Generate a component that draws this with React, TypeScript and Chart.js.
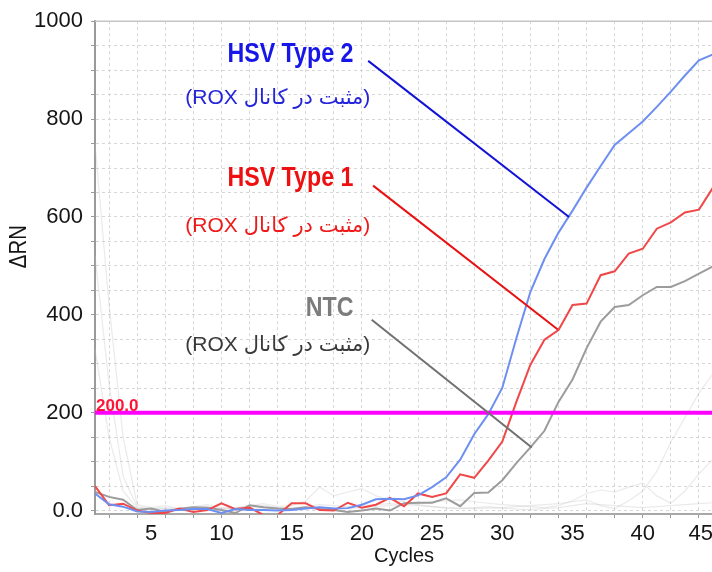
import React, { useEffect, useRef } from 'react';
import { Chart, registerables } from 'chart.js';

Chart.register(...registerables);

const FONT = '"Liberation Sans", Arial, "DejaVu Sans", sans-serif';

// ---- data ----
const cycles = Array.from({ length: 45 }, (_, i) => i + 1);

const hsvType2 = [35, 13, 8, -2, -3, 0, 1, 3, 3, -5, 3, 1, 1, 0, 1, 4, 7, 4, 5, 12, 23, 24, 23, 31, 48, 68, 104, 156, 197, 251, 352, 447, 514, 568, 613, 660, 704, 747, 771, 795, 825, 856, 889, 920, 932];
const hsvType1 = [50, 11, 14, 0, -5, -5, 4, -3, 1, 15, 3, 6, -9, -9, 15, 15, 1, 0, 16, 6, 12, 26, 9, 35, 28, 35, 74, 67, 102, 141, 222, 298, 349, 369, 420, 423, 481, 489, 525, 535, 576, 589, 609, 615, 660];
const ntc = [38, 28, 22, 1, 4, -3, 4, 7, 6, 1, -5, 11, 7, 4, 3, 7, 3, 1, -3, 0, 4, 0, 15, 16, 16, 25, 9, 36, 37, 62, 97, 129, 163, 222, 268, 332, 386, 416, 420, 440, 457, 457, 469, 484, 499];

// faint background traces (other wells / channels)
const faintA = [750, 420, 150, 12, 6, 10, 4, 8, 12, 6, 5, 10, 14, 8, 10, 20, 48, 30, 38, 45, 30, 22, 18, 12, 8, 5, 4, 6, 8, 5, 3, 2, 4, 6, 10, 14, 12, 10, 8, 6, 8, 10, 12, 14, 16];
const faintB = [520, 260, 70, 8, 4, 6, 3, 5, 8, 4, 6, 8, 10, 6, 5, 8, 12, 10, 8, 10, 12, 14, 12, 10, 8, 6, 5, 4, 5, 6, 8, 10, 12, 14, 18, 22, 10, 4, 20, 40, 80, 140, 190, 240, 280];
const faintC = [330, 150, 40, 5, 3, 4, 2, 3, 5, 3, 4, 5, 6, 4, 3, 5, 6, 5, 4, 6, 8, 10, 12, 14, 18, 20, 22, 18, 15, 12, 10, 8, 6, 10, 20, 35, 42, 38, 48, 56, 30, 15, 40, 75, 105];

const threshold = 200;
const thresholdLabel = '200.0';

// axis ticks
const xGridCycles = [2, 4, 6, 8, 10, 12, 14, 16, 18, 20, 22, 24, 26, 28, 30, 32, 34, 36, 38, 40, 42, 44];
const xLabelCycles = [5, 10, 15, 20, 25, 30, 35, 40, 45];
const yGridValues = Array.from({ length: 21 }, (_, i) => i * 50);
const yLabelValues = [0, 200, 400, 600, 800, 1000];
const yTitle = 'ΔRN';

// annotations (data coordinates: cycle, ΔRN)
const titles = ['HSV Type 2', 'HSV Type 1', 'NTC'];
const titleColors = ['#1616e8', '#ee1010', '#7c7c7c'];
const noteColors = ['#2424d8', '#ee1a1a', '#3a3a3a'];
const noteText = '(مثبت در کانال ROX)';
const titleCycle = 19.4;
const titleValues = [931, 678, 412];
const noteCycle = 20.6;
const noteValues = [843, 582, 338];
const pointerFrom = [{ x: 20.45, y: 919 }, { x: 20.8, y: 664 }, { x: 20.7, y: 390 }];
const pointerTo = [{ x: 34.75, y: 600 }, { x: 33.95, y: 370 }, { x: 32.1, y: 129 }];
const pointerColors = ['#1212d6', '#e81010', '#707070'];

const toPoints = (arr: number[]) => cycles.map((c, i) => ({ x: c, y: arr[i] }));

const annotationPlugin = {
  id: 'pcrAnnotations',
  afterDatasetsDraw(chart: any) {
    const { ctx, chartArea, scales } = chart;
    const x = scales.x;
    const y = scales.y;
    ctx.save();
    // top frame line
    ctx.strokeStyle = '#c4c4c4';
    ctx.lineWidth = 1.5;
    ctx.beginPath();
    ctx.moveTo(chartArea.left, chartArea.top);
    ctx.lineTo(chartArea.right, chartArea.top);
    ctx.stroke();

    // threshold label
    ctx.fillStyle = '#ff1438';
    ctx.font = `bold 17px ${FONT}`;
    ctx.textAlign = 'left';
    ctx.textBaseline = 'alphabetic';
    ctx.fillText(thresholdLabel, chartArea.left + 1, y.getPixelForValue(threshold) - 2);

    titles.forEach((t, i) => {
      ctx.save();
      ctx.translate(x.getPixelForValue(titleCycle), y.getPixelForValue(titleValues[i]));
      ctx.scale(0.86, 1);
      ctx.font = `bold 27px ${FONT}`;
      ctx.fillStyle = titleColors[i];
      ctx.textAlign = 'right';
      ctx.textBaseline = 'middle';
      ctx.fillText(t, 0, 0);
      ctx.restore();

      ctx.save();
      ctx.direction = 'rtl';
      ctx.font = `21px ${FONT}`;
      ctx.fillStyle = noteColors[i];
      ctx.textAlign = 'right';
      ctx.textBaseline = 'middle';
      ctx.fillText(noteText, x.getPixelForValue(noteCycle), y.getPixelForValue(noteValues[i]));
      ctx.restore();
    });
    ctx.restore();
  },
  afterDraw(chart: any) {
    const { ctx, chartArea } = chart;
    // y axis title, condensed like the original
    ctx.save();
    ctx.translate(19, (chartArea.top + chartArea.bottom) / 2 - 21);
    ctx.rotate(-Math.PI / 2);
    ctx.scale(0.85, 1);
    ctx.font = `24px ${FONT}`;
    ctx.fillStyle = '#151515';
    ctx.textAlign = 'center';
    ctx.textBaseline = 'middle';
    ctx.fillText(yTitle, 0, 0);
    ctx.restore();
  },
};

export default function App() {
  const canvasRef = useRef<HTMLCanvasElement | null>(null);

  useEffect(() => {
    document.body.style.margin = '0';
    document.body.style.overflow = 'hidden';
    const canvas = canvasRef.current;
    if (!canvas) return;

    const faintStyle = {
      borderColor: 'rgba(190,190,190,0.33)',
      borderWidth: 1.2,
      pointRadius: 0,
      order: 20,
    };

    const chart = new Chart(canvas, {
      type: 'line',
      data: {
        datasets: [
          ...pointerFrom.map((p, i) => ({
            data: [p, pointerTo[i]],
            borderColor: pointerColors[i],
            borderWidth: 2,
            pointRadius: 0,
            order: 0,
          })),
          {
            data: [{ x: 1, y: threshold }, { x: 45, y: threshold }],
            borderColor: '#ff00ff',
            borderWidth: 4,
            pointRadius: 0,
            order: 1,
          },
          { data: toPoints(hsvType2), borderColor: '#6d8ff2', borderWidth: 2, pointRadius: 0, order: 3 },
          { data: toPoints(hsvType1), borderColor: '#f04848', borderWidth: 2, pointRadius: 0, order: 4 },
          { data: toPoints(ntc), borderColor: '#9c9c9c', borderWidth: 2, pointRadius: 0, order: 5 },
          { data: toPoints(faintA), ...faintStyle },
          { data: toPoints(faintB), ...faintStyle },
          { data: toPoints(faintC), ...faintStyle },
        ] as any,
      },
      options: {
        animation: false,
        responsive: false,
        devicePixelRatio: 1,
        layout: { padding: { top: 16, right: 17, left: 0, bottom: 0 } },
        elements: { line: { tension: 0 }, point: { radius: 0 } },
        plugins: { legend: { display: false }, tooltip: { enabled: false } },
        scales: {
          x: {
            type: 'linear',
            min: 1,
            max: 45,
            afterBuildTicks: (scale: any) => {
              const vals = Array.from(new Set([...xGridCycles, ...xLabelCycles])).sort((a, b) => a - b);
              scale.ticks = vals.map((v) => ({ value: v }));
            },
            afterFit: (scale: any) => {
              scale.height = 58;
            },
            ticks: {
              autoSkip: false,
              maxRotation: 0,
              align: 'inner',
              padding: 3,
              color: '#151515',
              font: { family: FONT, size: 22 },
              callback: (v: any) => (xLabelCycles.includes(Number(v)) ? String(v) : ''),
            },
            grid: {
              color: (c: any) => (c.tick && xGridCycles.includes(c.tick.value) ? '#d6d6d6' : 'rgba(0,0,0,0)'),
              lineWidth: 1,
              tickLength: 4,
              tickColor: (c: any) => (c.tick && xGridCycles.includes(c.tick.value) ? '#9a9a9a' : 'rgba(0,0,0,0)'),
            },
            border: { display: true, color: '#a8a8a8', width: 2, dash: [3, 3] },
            title: {
              display: true,
              text: 'Cycles',
              color: '#151515',
              font: { family: FONT, size: 20 },
              padding: { top: 0, bottom: 4 },
            },
          },
          y: {
            type: 'linear',
            min: -7,
            max: 1000,
            afterBuildTicks: (scale: any) => {
              scale.ticks = yGridValues.map((v) => ({ value: v }));
            },
            afterFit: (scale: any) => {
              scale.width = 95;
            },
            ticks: {
              autoSkip: false,
              padding: 8,
              color: '#151515',
              font: { family: FONT, size: 22 },
              callback: (v: any) => {
                const n = Number(v);
                if (!yLabelValues.includes(n)) return '';
                return n === 0 ? '0.0' : String(n);
              },
            },
            grid: {
              color: (c: any) => (c.tick && c.tick.value === 1000 ? 'rgba(0,0,0,0)' : '#d6d6d6'),
              lineWidth: 1,
              tickLength: 4,
              tickColor: '#9a9a9a',
            },
            border: { display: true, color: '#9a9a9a', width: 2, dash: [3, 3] },
            title: { display: false },
          },
        },
      } as any,
      plugins: [annotationPlugin],
    });

    return () => chart.destroy();
  }, []);

  return (
    <div style={{ width: 730, height: 572, position: 'relative' }}>
      <canvas ref={canvasRef} width={730} height={572} style={{ display: 'block' }} />
    </div>
  );
}
